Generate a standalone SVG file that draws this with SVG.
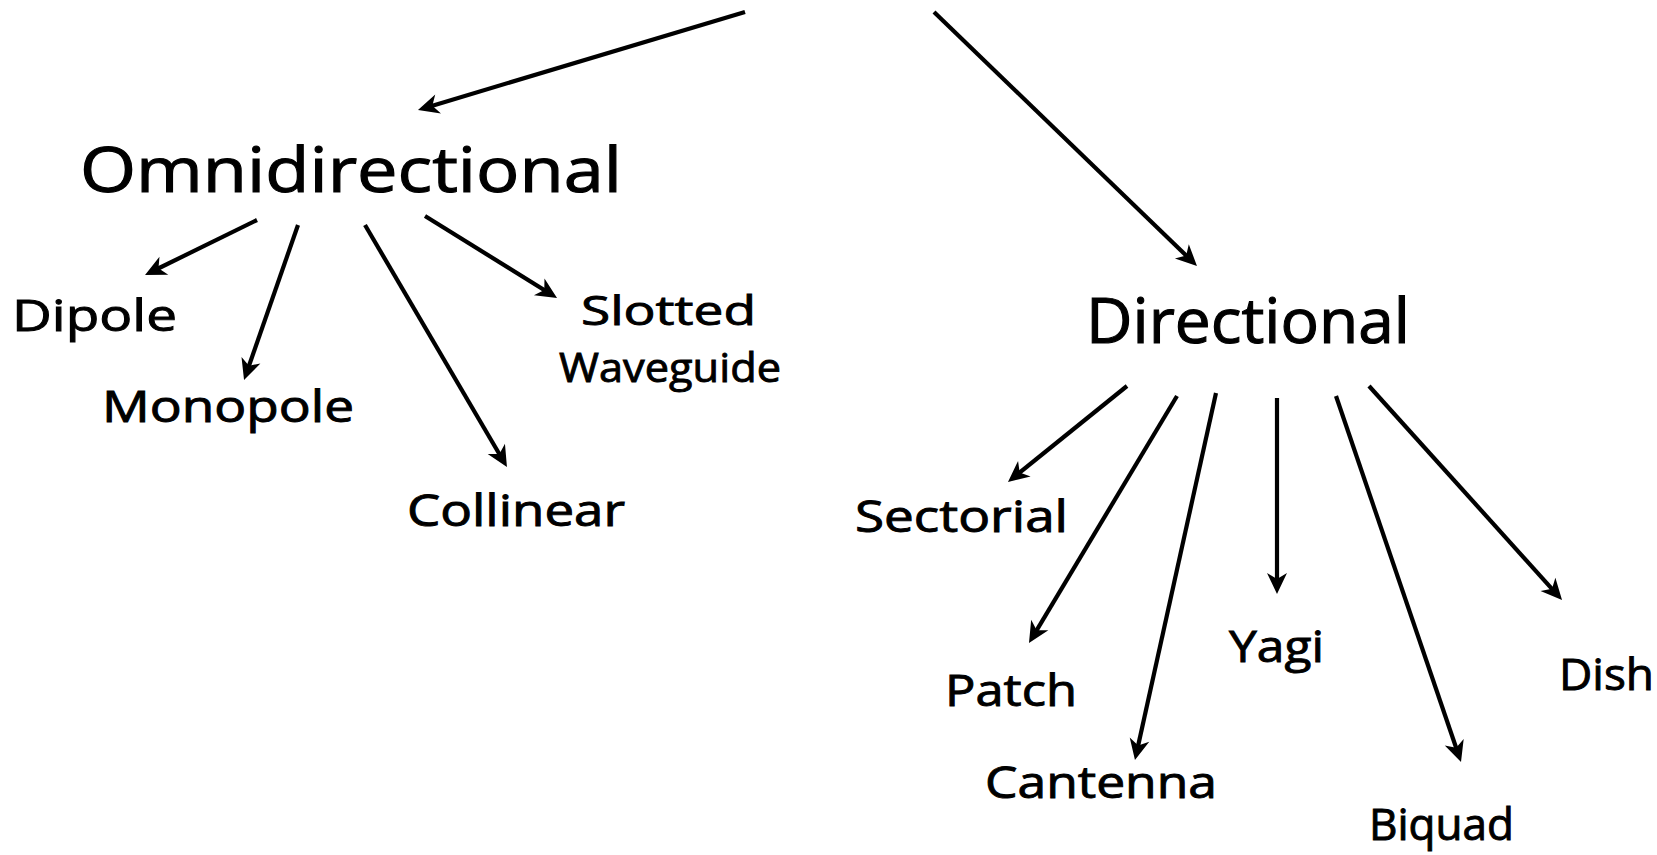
<svg xmlns="http://www.w3.org/2000/svg" width="1657" height="855" viewBox="0 0 1657 855">
<style>
text{font-family:"Open Sans","Noto Sans","Liberation Sans",sans-serif;font-weight:400;fill:#000;stroke:#000;stroke-width:0.9;font-variant-ligatures:none}
.big{font-size:62px;stroke-width:1.1}
.lbl{font-size:43px}
.sw{font-size:41px}
.conn line{stroke:#000;stroke-width:4.2;marker-end:url(#ah)}
</style>
<defs>
<marker id="ah" markerUnits="userSpaceOnUse" viewBox="-14 -12 26 24" markerWidth="26" markerHeight="24" refX="0" refY="0" orient="auto" overflow="visible">
<path d="M9,0 L-12,-10 L-6,0 L-12,10 Z" fill="#000"/>
</marker>
</defs>
<rect width="1657" height="855" fill="#fff"/>
<g id="connectors" class="conn">
<line x1="745" y1="12" x2="426.6" y2="107.4"/>
<line x1="934" y1="12" x2="1190.5" y2="259.7"/>
<line x1="257" y1="220" x2="153.1" y2="271.0"/>
<line x1="298" y1="225" x2="247.0" y2="371.5"/>
<line x1="365" y1="225" x2="502.4" y2="459.2"/>
<line x1="425" y1="216" x2="549.4" y2="293.2"/>
<line x1="1127" y1="386" x2="1015.0" y2="476.3"/>
<line x1="1177" y1="396" x2="1033.6" y2="635.3"/>
<line x1="1216" y1="393" x2="1136.9" y2="751.3"/>
<line x1="1277" y1="398" x2="1277" y2="585"/>
<line x1="1336" y1="396" x2="1458.1" y2="753.5"/>
<line x1="1369" y1="386" x2="1556.0" y2="593.3"/>
</g>
<g id="omnidirectional"><text class="big" x="80" y="192" textLength="542" lengthAdjust="spacingAndGlyphs">Omnidirectional</text></g>
<g id="directional"><text class="big" x="1086" y="343" textLength="324" lengthAdjust="spacingAndGlyphs">Directional</text></g>
<g id="dipole"><text class="lbl" x="12" y="331" textLength="165" lengthAdjust="spacingAndGlyphs">Dipole</text></g>
<g id="monopole"><text class="lbl" x="102" y="422" textLength="252" lengthAdjust="spacingAndGlyphs">Monopole</text></g>
<g id="collinear"><text class="lbl" x="407" y="526" textLength="218" lengthAdjust="spacingAndGlyphs">Collinear</text></g>
<g id="slotted-waveguide"><text class="lbl sw" x="581" y="325" textLength="175" lengthAdjust="spacingAndGlyphs">Slotted</text><text class="lbl sw" x="559" y="382" textLength="222" lengthAdjust="spacingAndGlyphs">Waveguide</text></g>
<g id="sectorial"><text class="lbl" x="855" y="532" textLength="213" lengthAdjust="spacingAndGlyphs">Sectorial</text></g>
<g id="patch"><text class="lbl" x="945" y="706" textLength="132" lengthAdjust="spacingAndGlyphs">Patch</text></g>
<g id="cantenna"><text class="lbl" x="985" y="798" textLength="232" lengthAdjust="spacingAndGlyphs">Cantenna</text></g>
<g id="yagi"><text class="lbl" x="1229" y="662" textLength="95" lengthAdjust="spacingAndGlyphs">Yagi</text></g>
<g id="biquad"><text class="lbl" x="1369" y="840" textLength="145" lengthAdjust="spacingAndGlyphs">Biquad</text></g>
<g id="dish"><text class="lbl" x="1559" y="690" textLength="95" lengthAdjust="spacingAndGlyphs">Dish</text></g>
</svg>
